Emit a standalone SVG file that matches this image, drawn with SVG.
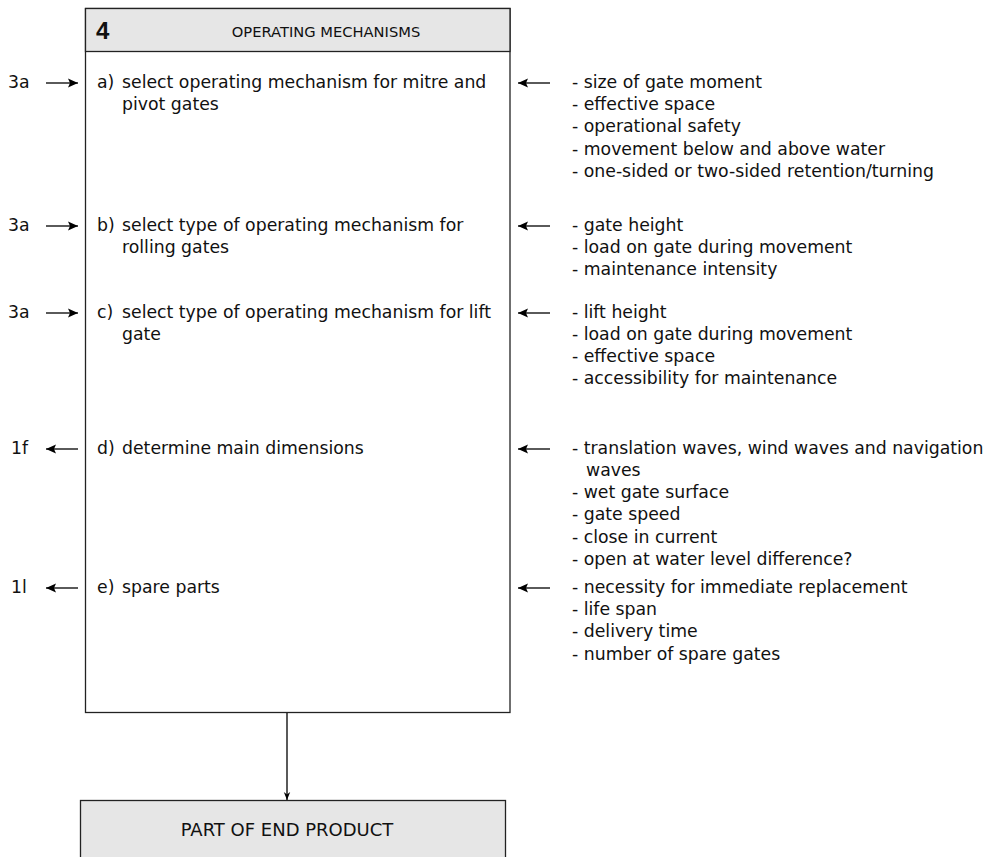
<svg xmlns="http://www.w3.org/2000/svg" width="990" height="857" viewBox="0 0 990 857">
<defs>
<marker id="ah" viewBox="0 0 10 10" refX="10" refY="5" markerWidth="10" markerHeight="10" markerUnits="userSpaceOnUse" orient="auto-start-reverse">
<path d="M0,0.5 L10,5 L0,9.5 L2,5 Z" fill="#000"/>
</marker>
<marker id="ahs" viewBox="0 0 10 10" refX="10" refY="5" markerWidth="8" markerHeight="8" markerUnits="userSpaceOnUse" orient="auto">
<path d="M0,1 L10,5 L0,9 L3,5 Z" fill="#000"/>
</marker>
</defs>
<style>
text{font-family:"DejaVu Sans","Open Sans",sans-serif;font-size:17.3px;fill:#111;}
.hd{font-size:14.7px;}
.ft{font-size:18px;}
.num{font-family:"Liberation Sans",sans-serif;font-weight:bold;font-size:24px;}
.box{fill:#fff;stroke:#222;stroke-width:1.3;}
.hdr{fill:#e6e6e6;stroke:#222;stroke-width:1.3;}
.ln{stroke:#000;stroke-width:1.3;fill:none;}
</style>
<rect width="990" height="857" fill="#fff"/>
<g id="main">
<rect class="box" x="85.5" y="8.5" width="424.5" height="704"/>
<rect class="hdr" x="85.5" y="8.5" width="424.5" height="43"/>
<text class="num" x="96" y="39">4</text>
<text class="hd" x="326" y="37" text-anchor="middle">OPERATING MECHANISMS</text>
<text x="97" y="88">a)</text><text x="122" y="88">select operating mechanism for mitre and</text>
<text x="122" y="110">pivot gates</text>
<text x="97" y="231">b)</text><text x="122" y="231">select type of operating mechanism for</text>
<text x="122" y="253">rolling gates</text>
<text x="97" y="318">c)</text><text x="122" y="318">select type of operating mechanism for lift</text>
<text x="122" y="340">gate</text>
<text x="97" y="454">d)</text><text x="122" y="454">determine main dimensions</text>
<text x="97" y="593">e)</text><text x="122" y="593">spare parts</text>
</g>
<g id="end">
<rect class="hdr" x="80.5" y="800.5" width="425" height="70"/>
<text class="ft" x="287" y="836" text-anchor="middle">PART OF END PRODUCT</text>
</g>
<g id="in-labels">
<text x="8" y="88">3a</text>
<text x="8" y="231">3a</text>
<text x="8" y="318">3a</text>
<text x="11" y="454">1f</text>
<text x="11" y="593">1l</text>
</g>
<g id="criteria">
<text x="572" y="88">- size of gate moment</text>
<text x="572" y="110">- effective space</text>
<text x="572" y="132">- operational safety</text>
<text x="572" y="155">- movement below and above water</text>
<text x="572" y="177">- one-sided or two-sided retention/turning</text>
<text x="572" y="231">- gate height</text>
<text x="572" y="253">- load on gate during movement</text>
<text x="572" y="275">- maintenance intensity</text>
<text x="572" y="318">- lift height</text>
<text x="572" y="340">- load on gate during movement</text>
<text x="572" y="362">- effective space</text>
<text x="572" y="384">- accessibility for maintenance</text>
<text x="572" y="454">- translation waves, wind waves and navigation</text>
<text x="586" y="476">waves</text>
<text x="572" y="498">- wet gate surface</text>
<text x="572" y="520">- gate speed</text>
<text x="572" y="543">- close in current</text>
<text x="572" y="565">- open at water level difference?</text>
<text x="572" y="593">- necessity for immediate replacement</text>
<text x="572" y="615">- life span</text>
<text x="572" y="637">- delivery time</text>
<text x="572" y="660">- number of spare gates</text>
</g>
<g id="connectors">
<line class="ln" x1="46" y1="83" x2="78" y2="83" marker-end="url(#ah)"/>
<line class="ln" x1="46" y1="226" x2="78" y2="226" marker-end="url(#ah)"/>
<line class="ln" x1="46" y1="313" x2="78" y2="313" marker-end="url(#ah)"/>
<line class="ln" x1="78" y1="449" x2="46" y2="449" marker-end="url(#ah)"/>
<line class="ln" x1="78" y1="588" x2="46" y2="588" marker-end="url(#ah)"/>
<line class="ln" x1="550" y1="83" x2="518" y2="83" marker-end="url(#ah)"/>
<line class="ln" x1="550" y1="226" x2="518" y2="226" marker-end="url(#ah)"/>
<line class="ln" x1="550" y1="313" x2="518" y2="313" marker-end="url(#ah)"/>
<line class="ln" x1="550" y1="449" x2="518" y2="449" marker-end="url(#ah)"/>
<line class="ln" x1="550" y1="588" x2="518" y2="588" marker-end="url(#ah)"/>
<line class="ln" x1="287" y1="713" x2="287" y2="800" marker-end="url(#ahs)"/>
</g>
</svg>
